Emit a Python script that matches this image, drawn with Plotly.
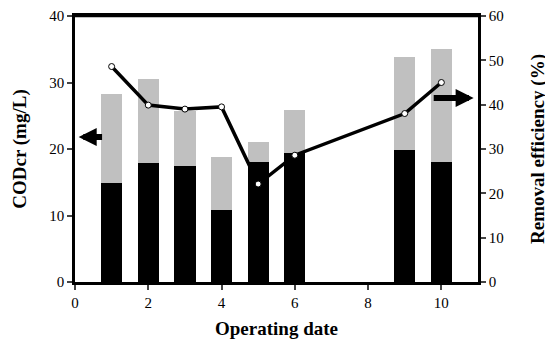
import plotly.graph_objects as go

days = [1, 2, 3, 4, 5, 6, 9, 10]
cod_influent = [28.3, 30.6, 25.7, 18.8, 21.0, 25.9, 33.8, 35.0]
cod_effluent = [14.9, 17.9, 17.5, 10.8, 18.1, 19.4, 19.9, 18.0]
removal = [48.6, 39.9, 39.0, 39.5, 22.1, 28.6, 38.0, 45.0]

font_family = "Liberation Serif"

fig = go.Figure()
fig.add_trace(go.Bar(x=days, y=cod_influent, width=0.58, marker=dict(color="#c0c0c0", line=dict(width=0)), showlegend=False))
fig.add_trace(go.Bar(x=days, y=cod_effluent, width=0.58, marker=dict(color="#000000", line=dict(width=0)), showlegend=False))
fig.add_trace(go.Scatter(x=days, y=removal, yaxis="y2", mode="lines+markers",
                         line=dict(color="black", width=3.5),
                         marker=dict(symbol="circle", size=6, color="white", line=dict(color="black", width=1)),
                         showlegend=False))

# arrows pointing to the relevant axes
fig.add_annotation(x=0.1, y=21.8, ax=0.78, ay=21.8, xref="x", yref="y", axref="x", ayref="y",
                   text="", showarrow=True, arrowhead=2, arrowsize=0.6, arrowwidth=6, arrowcolor="black")
fig.add_annotation(x=10.88, y=41.5, ax=9.75, ay=41.5, xref="x", yref="y2", axref="x", ayref="y2",
                   text="", showarrow=True, arrowhead=2, arrowsize=0.6, arrowwidth=6, arrowcolor="black")

# top frame line
fig.add_shape(type="rect", xref="paper", yref="paper", x0=0, x1=1, y0=0.995, y1=1.005,
              fillcolor="black", line=dict(width=0), layer="above")

fig.update_layout(
    width=545, height=339,
    margin=dict(l=67, r=75, t=8, b=65),
    paper_bgcolor="white", plot_bgcolor="white",
    barmode="overlay", bargap=0,
    font=dict(family=font_family, size=15, color="black"),
    xaxis=dict(range=[0, 11], tickvals=[0, 2, 4, 6, 8, 10], ticks="outside", ticklen=5, tickwidth=2,
               showline=True, linewidth=2.5, linecolor="black", mirror=True, showgrid=False, zeroline=False,
               automargin=False,
               title=dict(text="<b>Operating date</b>", font=dict(size=19, family=font_family), standoff=12)),
    yaxis=dict(range=[0, 40], tickvals=[0, 10, 20, 30, 40], ticks="outside", ticklen=5, tickwidth=2,
               showline=True, linewidth=2.5, linecolor="black", showgrid=False, zeroline=False,
               automargin=False,
               title=dict(text="<b>CODcr (mg/L)</b>", font=dict(size=19, family=font_family), standoff=18)),
    yaxis2=dict(range=[0, 60], tickvals=[0, 10, 20, 30, 40, 50, 60], overlaying="y", side="right",
                ticks="outside", ticklen=5, tickwidth=2, automargin=False,
                showline=True, linewidth=2.5, linecolor="black", showgrid=False, zeroline=False,
                title=dict(text="<b>Removal efficiency (%)</b>", font=dict(size=19, family=font_family), standoff=28)),
)

fig.write_html("out.html")
